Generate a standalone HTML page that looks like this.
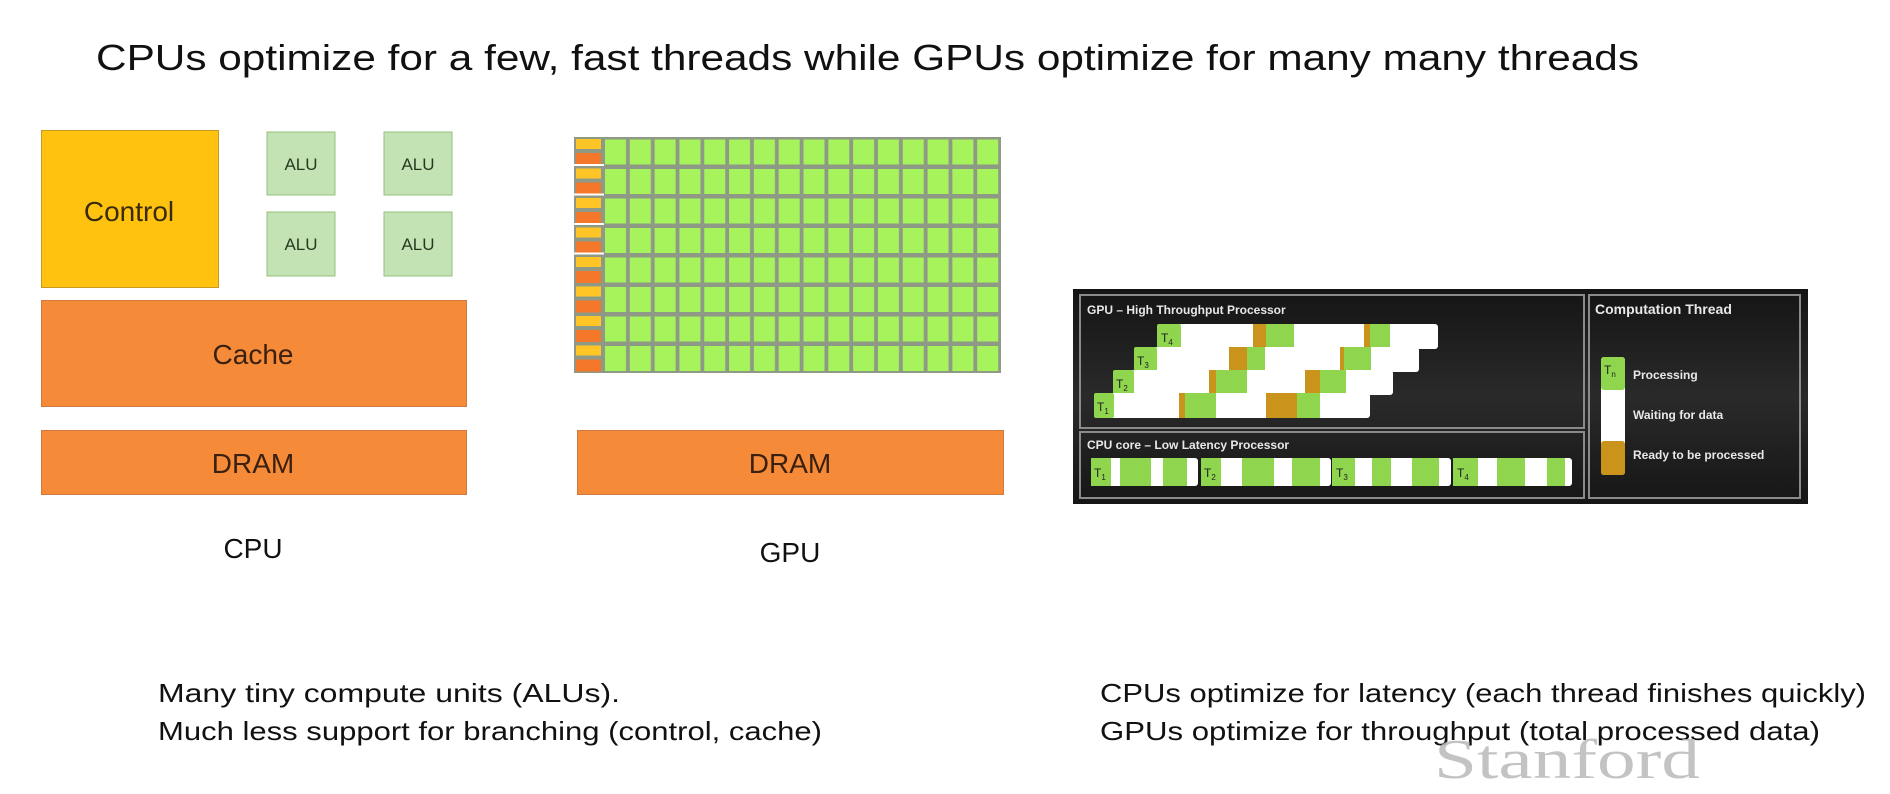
<!DOCTYPE html>
<html><head><meta charset="utf-8"><style>
html,body{margin:0;padding:0;background:#fff;}
svg{display:block;}
</style></head><body>
<svg width="1890" height="794" viewBox="0 0 1890 794" xmlns="http://www.w3.org/2000/svg" font-family="Liberation Sans, sans-serif">
<defs>
<pattern id="cell" x="603" y="137" width="24.8125" height="29.5" patternUnits="userSpaceOnUse">
<rect width="24.8125" height="29.5" fill="#8f9a86"/>
<rect x="2" y="2.5" width="21" height="25" fill="#a6f35c"/>
</pattern>
<linearGradient id="bg" x1="0" y1="0" x2="0" y2="1">
<stop offset="0" stop-color="#141414"/><stop offset="0.5" stop-color="#2a2a2a"/><stop offset="1" stop-color="#161616"/>
</linearGradient>
</defs>
<text x="96" y="70" font-size="36" fill="#111" textLength="1543" lengthAdjust="spacingAndGlyphs">CPUs optimize for a few, fast threads while GPUs optimize for many many threads</text>

<!-- CPU -->
<rect x="41.5" y="130.5" width="177" height="157" fill="#ffc20e" stroke="#c89a20"/>
<text x="129" y="221" font-size="28" fill="#3a2a10" text-anchor="middle">Control</text>
<g fill="#c4e3b4" stroke="#93c07f">
<rect x="267" y="132" width="68" height="63"/><rect x="384" y="132" width="68" height="63"/>
<rect x="267" y="212" width="68" height="64"/><rect x="384" y="212" width="68" height="64"/>
</g>
<g font-size="17" fill="#263a20" text-anchor="middle">
<text x="301" y="170">ALU</text><text x="418" y="170">ALU</text>
<text x="301" y="250">ALU</text><text x="418" y="250">ALU</text>
</g>
<rect x="41.5" y="300.5" width="425" height="106" fill="#f58b38" stroke="#d07a40"/>
<text x="253" y="364" font-size="28" fill="#3a2010" text-anchor="middle">Cache</text>
<rect x="41.5" y="430.5" width="425" height="64" fill="#f58b38" stroke="#d07a40"/>
<text x="253" y="473" font-size="28" fill="#3a2010" text-anchor="middle">DRAM</text>
<text x="253" y="558" font-size="28" fill="#111" text-anchor="middle">CPU</text>

<!-- GPU -->
<rect x="574" y="137" width="427" height="236" fill="#8f9a86"/>
<rect x="603" y="137" width="397" height="236" fill="url(#cell)"/>
<g>
<rect x="576" y="139" width="25" height="10" fill="#ffc526"/><rect x="576" y="153" width="25" height="12" fill="#f5782a"/>
<rect x="576" y="168.5" width="25" height="10" fill="#ffc526"/><rect x="576" y="182.5" width="25" height="12" fill="#f5782a"/>
<rect x="576" y="198" width="25" height="10" fill="#ffc526"/><rect x="576" y="212" width="25" height="12" fill="#f5782a"/>
<rect x="576" y="227.5" width="25" height="10" fill="#ffc526"/><rect x="576" y="241.5" width="25" height="12" fill="#f5782a"/>
<rect x="576" y="257" width="25" height="10" fill="#ffc526"/><rect x="576" y="271" width="25" height="12" fill="#f5782a"/>
<rect x="576" y="286.5" width="25" height="10" fill="#ffc526"/><rect x="576" y="300.5" width="25" height="12" fill="#f5782a"/>
<rect x="576" y="316" width="25" height="10" fill="#ffc526"/><rect x="576" y="330" width="25" height="12" fill="#f5782a"/>
<rect x="576" y="345.5" width="25" height="10" fill="#ffc526"/><rect x="576" y="359.5" width="25" height="12" fill="#f5782a"/>
<g fill="#fff"><rect x="574" y="164" width="30" height="2"/><rect x="574" y="193.5" width="30" height="2"/><rect x="574" y="223" width="30" height="2"/><rect x="574" y="252.5" width="30" height="2"/></g>
</g>
<rect x="577.5" y="430.5" width="426" height="64" fill="#f58b38" stroke="#d07a40"/>
<text x="790" y="473" font-size="28" fill="#3a2010" text-anchor="middle">DRAM</text>
<text x="790" y="562" font-size="28" fill="#111" text-anchor="middle">GPU</text>

<!-- Right diagram -->
<rect x="1073" y="289" width="735" height="215" fill="url(#bg)"/>
<g fill="none" stroke="#8a8a8a" stroke-width="2">
<rect x="1080" y="295" width="504" height="133"/>
<rect x="1080" y="432" width="504" height="66"/>
<rect x="1589" y="295" width="211" height="203"/>
</g>
<g font-weight="bold" fill="#e8e8e8">
<text x="1087" y="314" font-size="12">GPU – High Throughput Processor</text>
<text x="1087" y="449" font-size="12">CPU core – Low Latency Processor</text>
<text x="1595" y="314" font-size="14">Computation Thread</text>
<text x="1633" y="379" font-size="12">Processing</text>
<text x="1633" y="419" font-size="12">Waiting for data</text>
<text x="1633" y="459" font-size="12">Ready to be processed</text>
</g>
<!-- GPU rows -->
<g>
<rect x="1157" y="324" width="281" height="25" rx="3" fill="#fff"/>
<rect x="1157" y="324" width="24" height="25" rx="2" fill="#8fd64e"/>
<rect x="1253" y="324" width="13" height="25" fill="#c9931c"/><rect x="1266" y="324" width="28" height="25" fill="#8fd64e"/>
<rect x="1364" y="324" width="6" height="25" fill="#c9931c"/><rect x="1370" y="324" width="20" height="25" fill="#8fd64e"/>
<text x="1161" y="342" font-size="12" fill="#222">T<tspan font-size="8" dy="3">4</tspan></text>

<rect x="1134" y="347" width="285" height="25" rx="3" fill="#fff"/>
<rect x="1134" y="347" width="23" height="25" rx="2" fill="#8fd64e"/>
<rect x="1229" y="347" width="18" height="25" fill="#c9931c"/><rect x="1247" y="347" width="18" height="25" fill="#8fd64e"/>
<rect x="1340" y="347" width="4" height="25" fill="#c9931c"/><rect x="1344" y="347" width="27" height="25" fill="#8fd64e"/>
<text x="1137" y="365" font-size="12" fill="#222">T<tspan font-size="8" dy="3">3</tspan></text>

<rect x="1113" y="370" width="280" height="25" rx="3" fill="#fff"/>
<rect x="1113" y="370" width="21" height="25" rx="2" fill="#8fd64e"/>
<rect x="1209" y="370" width="7" height="25" fill="#c9931c"/><rect x="1216" y="370" width="31" height="25" fill="#8fd64e"/>
<rect x="1305" y="370" width="15" height="25" fill="#c9931c"/><rect x="1320" y="370" width="26" height="25" fill="#8fd64e"/>
<text x="1116" y="388" font-size="12" fill="#222">T<tspan font-size="8" dy="3">2</tspan></text>

<rect x="1094" y="393" width="276" height="25" rx="3" fill="#fff"/>
<rect x="1094" y="393" width="20" height="25" rx="2" fill="#8fd64e"/>
<rect x="1179" y="393" width="6" height="25" fill="#c9931c"/><rect x="1185" y="393" width="31" height="25" fill="#8fd64e"/>
<rect x="1266" y="393" width="31" height="25" fill="#c9931c"/><rect x="1297" y="393" width="23" height="25" fill="#8fd64e"/>
<text x="1097" y="411" font-size="12" fill="#222">T<tspan font-size="8" dy="3">1</tspan></text>
</g>
<!-- CPU row -->
<g>
<rect x="1091" y="458" width="107" height="28" rx="3" fill="#fff"/>
<rect x="1091" y="458" width="20" height="28" fill="#8fd64e"/><rect x="1120" y="458" width="31" height="28" fill="#8fd64e"/><rect x="1163" y="458" width="24" height="28" fill="#8fd64e"/>
<rect x="1201" y="458" width="130" height="28" rx="3" fill="#fff"/>
<rect x="1201" y="458" width="20" height="28" fill="#8fd64e"/><rect x="1242" y="458" width="32" height="28" fill="#8fd64e"/><rect x="1292" y="458" width="28" height="28" fill="#8fd64e"/>
<rect x="1332" y="458" width="119" height="28" rx="3" fill="#fff"/>
<rect x="1332" y="458" width="23" height="28" fill="#8fd64e"/><rect x="1372" y="458" width="19" height="28" fill="#8fd64e"/><rect x="1412" y="458" width="27" height="28" fill="#8fd64e"/>
<rect x="1453" y="458" width="119" height="28" rx="3" fill="#fff"/>
<rect x="1453" y="458" width="25" height="28" fill="#8fd64e"/><rect x="1497" y="458" width="28" height="28" fill="#8fd64e"/><rect x="1547" y="458" width="18" height="28" fill="#8fd64e"/>
<g font-size="12" fill="#222">
<text x="1094" y="477">T<tspan font-size="8" dy="3">1</tspan></text>
<text x="1204" y="477">T<tspan font-size="8" dy="3">2</tspan></text>
<text x="1336" y="477">T<tspan font-size="8" dy="3">3</tspan></text>
<text x="1457" y="477">T<tspan font-size="8" dy="3">4</tspan></text>
</g>
</g>
<!-- legend bar -->
<rect x="1601" y="357" width="24" height="118" rx="3" fill="#fff"/>
<rect x="1601" y="357" width="24" height="33" rx="3" fill="#8fd64e"/>
<rect x="1601" y="441" width="24" height="34" rx="3" fill="#c9931c"/>
<text x="1604" y="374" font-size="12" fill="#222">T<tspan font-size="8" dy="3">n</tspan></text>

<!-- bottom text -->
<g font-size="26" fill="#111">
<text x="158" y="702" textLength="462" lengthAdjust="spacingAndGlyphs">Many tiny compute units (ALUs).</text>
<text x="158" y="740" textLength="664" lengthAdjust="spacingAndGlyphs">Much less support for branching (control, cache)</text>
<text x="1100" y="702" textLength="766" lengthAdjust="spacingAndGlyphs">CPUs optimize for latency (each thread finishes quickly)</text>
<text x="1100" y="740" textLength="720" lengthAdjust="spacingAndGlyphs">GPUs optimize for throughput (total processed data)</text>
</g>
<text x="1434" y="778" font-family="Liberation Serif, serif" font-size="56" fill="#b8b8b8" fill-opacity="0.85" textLength="266" lengthAdjust="spacingAndGlyphs">Stanford</text>
</svg>
</body></html>
